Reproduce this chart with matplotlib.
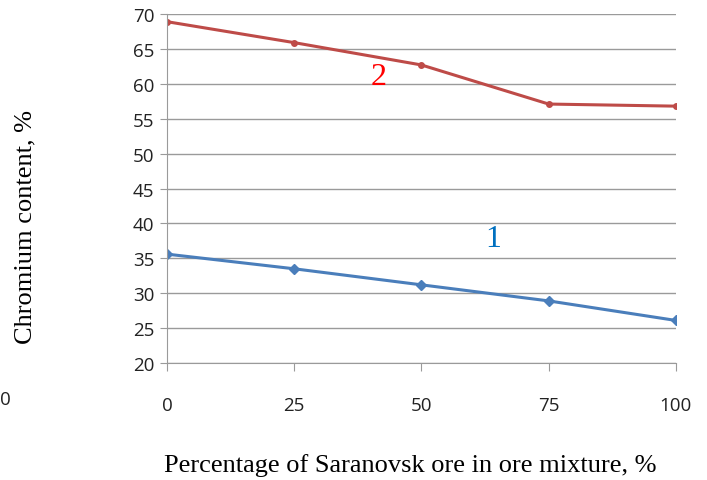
import matplotlib.pyplot as plt

share = [0, 25, 50, 75, 100]
curve_1 = [35.6, 33.5, 31.2, 28.9, 26.1]
curve_2 = [68.9, 65.9, 62.7, 57.1, 56.8]
y_ticks = [20, 25, 30, 35, 40, 45, 50, 55, 60, 65, 70]

fig = plt.figure(figsize=(7.07, 4.81), dpi=100)
ax = fig.add_axes([0.2362, 0.2432, 0.7198, 0.7256])

ax.plot(share, curve_1, color='#4A7EBB', lw=2.2, marker='D', ms=5)
ax.plot(share, curve_2, color='#BE4B48', lw=2.2, marker='o', ms=4)

ax.set_xlim(0, 100)
ax.set_ylim(20, 70)
ax.set_xticks(share)
ax.set_yticks(y_ticks)
ax.grid(axis='y', color='#9a9a9a', lw=1)
ax.set_axisbelow(True)
for s in ['top', 'right']:
    ax.spines[s].set_visible(False)
for s in ['left', 'bottom']:
    ax.spines[s].set_color('#9a9a9a')
ax.tick_params(axis='x', length=6, color='#9a9a9a', pad=18, labelsize=13.5)
ax.tick_params(axis='y', length=5, color='#9a9a9a', pad=4, labelsize=13.5)
for lab in ax.get_xticklabels() + ax.get_yticklabels():
    lab.set_family('Open Sans')
    lab.set_color('#222222')

ax.text(41.5, 61.0, '2', color='red', fontsize=23, family='Liberation Serif', ha='center', va='center')
ax.text(64.0, 37.8, '1', color='#0070C0', fontsize=23, family='Liberation Serif', ha='center', va='center')

fig.text(0.036, 0.528, 'Chromium content, %', rotation=90, ha='center', va='center',
         fontsize=19, family='Liberation Serif')
fig.text(0.58, 0.033, 'Percentage of Saranovsk ore in ore mixture, %', ha='center', va='center',
         fontsize=19, family='Liberation Serif')
fig.text(0.0, 0.168, '0', ha='left', va='center', fontsize=13.5, family='Open Sans', color='#222222')

fig.savefig('out.png', dpi=100)
